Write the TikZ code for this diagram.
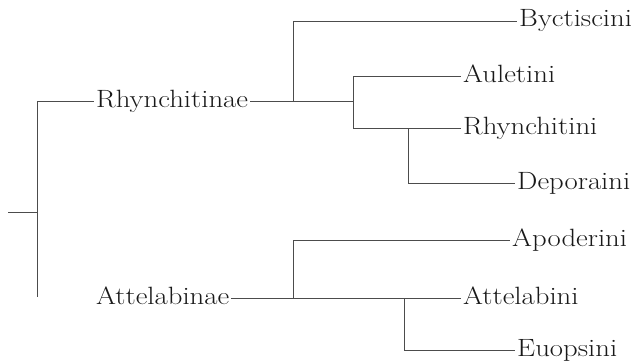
\documentclass[tikz,border=0pt]{standalone}
\usepackage{graphicx}
\newcommand{\widetxt}[1]{\scalebox{1.15}[1]{#1}}
\begin{document}
\begin{tikzpicture}[x=1pt,y=-1pt,
  lbl/.style={anchor=west,inner xsep=2pt,inner ysep=0pt,text height=17pt,text depth=5pt,
    font=\fontsize{25}{29}\selectfont,text=black!90},
  branch/.style={draw=black!70,line width=0.7pt}]
\useasboundingbox (0,0) rectangle (633,364);
% root
\coordinate (r0) at (8,212);
\coordinate (r1) at (37,212);
\coordinate (rt) at (37,101);
\coordinate (rb) at (37,297);
% subfamilies
\node[lbl] (Rh) at (94,101) {\widetxt{Rhynchitinae}};
\node[lbl] (At) at (94,298) {\widetxt{Attelabinae}};
% junctions upper
\coordinate (c1) at (293,101);
\coordinate (c1t) at (293,21);
\coordinate (c2) at (353,101);
\coordinate (c2t) at (353,76);
\coordinate (c2b) at (353,128);
\coordinate (c3) at (408,128);
\coordinate (c3b) at (408,183);
% junctions lower
\coordinate (d1) at (293,298);
\coordinate (d1t) at (293,240);
\coordinate (e1) at (404,298);
\coordinate (e1b) at (404,350);
% tribes
\node[lbl] (By) at (517,21) {\widetxt{Byctiscini}};
\node[lbl] (Au) at (461,76) {\widetxt{Auletini}};
\node[lbl] (RhI) at (461,128) {\widetxt{Rhynchitini}};
\node[lbl] (De) at (515,183) {\widetxt{Deporaini}};
\node[lbl] (Ap) at (510,240) {\widetxt{Apoderini}};
\node[lbl] (Att) at (461,298) {\widetxt{Attelabini}};
\node[lbl] (Eu) at (515,350) {\widetxt{Euopsini}};
% branches
\draw[branch] (r0) -- (r1);
\draw[branch] (rt) -- (rb);
\draw[branch] (rt) -- (Rh.west);
\draw[branch] (Rh.east) -- (c2);
\draw[branch] (c1) -- (c1t) -- (By.west);
\draw[branch] (c2t) -- (c2b);
\draw[branch] (c2t) -- (Au.west);
\draw[branch] (c2b) -- (RhI.west);
\draw[branch] (c3) -- (c3b) -- (De.west);
\draw[branch] (At.east) -- (Att.west);
\draw[branch] (d1) -- (d1t) -- (Ap.west);
\draw[branch] (e1) -- (e1b) -- (Eu.west);
\end{tikzpicture}
\end{document}
